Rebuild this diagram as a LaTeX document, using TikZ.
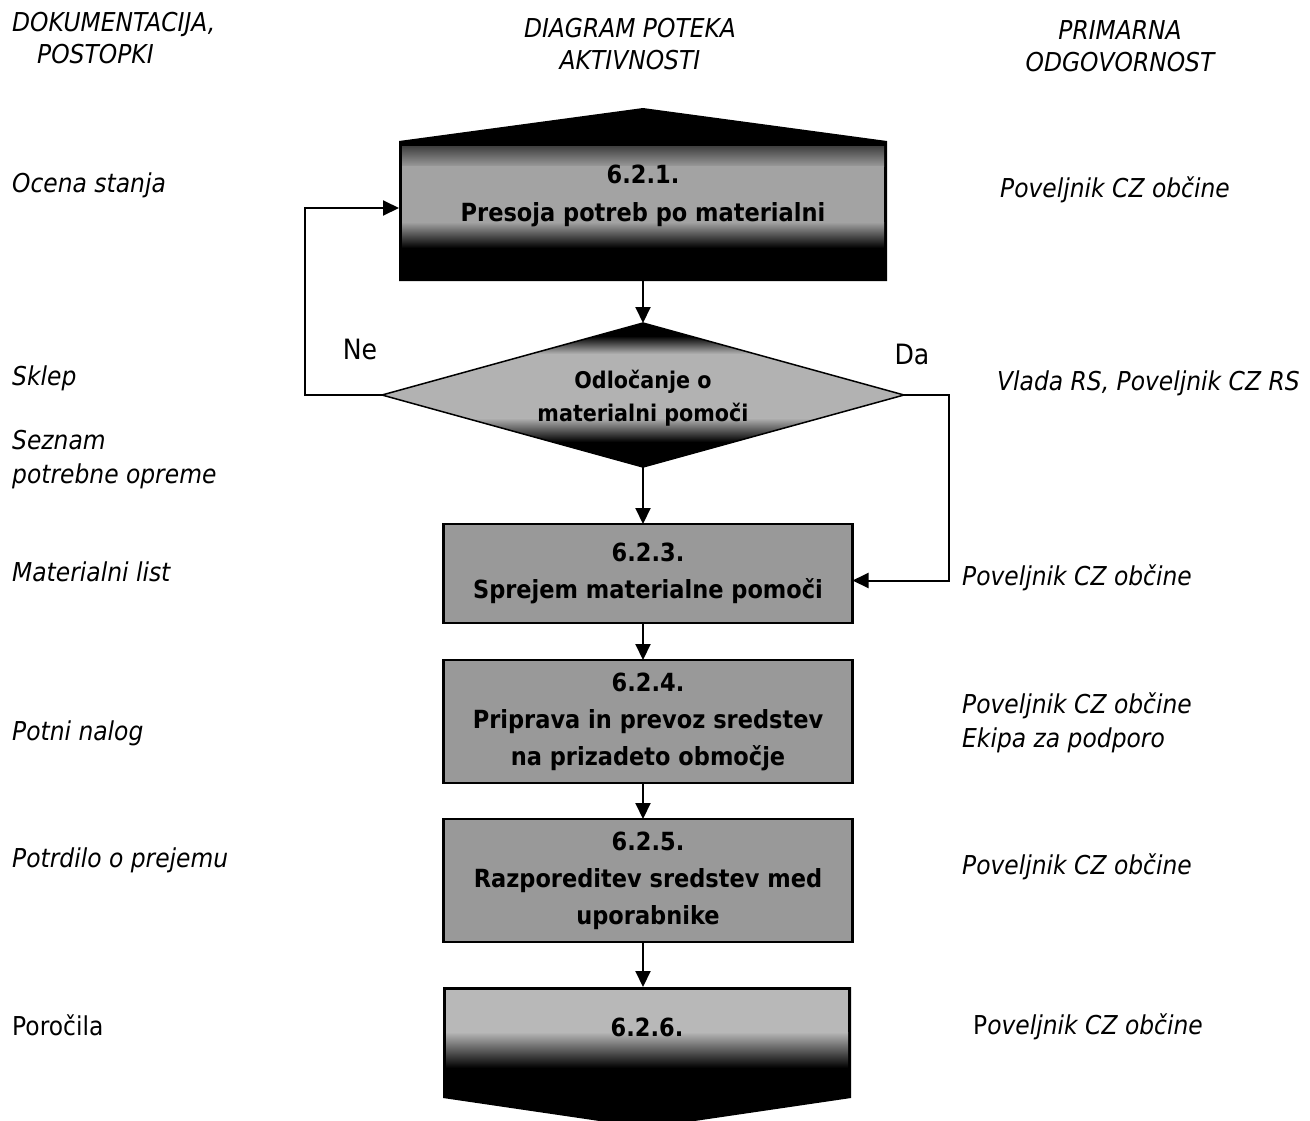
\documentclass[tikz,border=0pt]{standalone}
\usepackage{fontspec}
\setmainfont{DejaVu Sans}[FakeStretch=0.9]
\usetikzlibrary{arrows.meta,calc}
\begin{document}
\begin{tikzpicture}[x=1pt,y=-1pt,
  lbl/.style={anchor=west, inner sep=0pt, font=\fontsize{26}{34}\selectfont\itshape, align=left},
  hdr/.style={inner sep=0pt, font=\fontsize{26}{32}\selectfont\itshape, align=center},
  boxtxt/.style={inner sep=0pt, font=\fontsize{25}{37}\selectfont\bfseries, align=center},
  frame/.style={minimum width=#1, inner sep=0pt, outer sep=0pt},
  procbox/.style={draw=black, line width=2.5pt, fill=black!40, minimum width=409pt, inner sep=0pt, outer sep=0pt, boxtxt},
  yn/.style={inner sep=0pt, font=\fontsize{28}{28}\selectfont},
  conn/.style={line width=2pt},
  arr/.style={conn, -{Triangle[length=16pt,width=15pt]}},
  ]
\useasboundingbox (0,0) rectangle (1310,1120);
\fill[white] (0,0) rectangle (1310,1120);

% ---------- headers ----------
\node[hdr, anchor=north west, align=left] (h1) at (12,12) {DOKUMENTACIJA,\\\hspace*{25pt}POSTOPKI};
\node[hdr] (h2) at (630,44) {DIAGRAM POTEKA\\AKTIVNOSTI};
\node[hdr] (h3) at (1120,46) {PRIMARNA\\ODGOVORNOST};

% ---------- top shape 6.2.1 ----------
\node[frame=488pt, minimum height=140pt] (b1) at (643,211) {};
\fill[black] (b1.south west) -- (b1.north west) -- ($(b1.north)+(0,-33)$) -- (b1.north east) -- (b1.south east) -- cycle;
\shade[top color=black!75, bottom color=black!40] (402,146) rectangle (884,166);
\fill[black!36] (402,166) rectangle (884,222);
\shade[top color=black!36, bottom color=black] (402,222) rectangle (884,248);
\node[boxtxt, font=\fontsize{25}{38}\selectfont\bfseries] (t1) at (643,196) {6.2.1.\\Presoja potreb po materialni};

% ---------- decision diamond ----------
\node[frame=522pt, minimum height=144pt] (d) at (643,395) {};
\fill[black] (d.north) -- (d.east) -- (d.south) -- (d.west) -- cycle;
\begin{scope}
  \clip (d.north) -- (d.east) -- (d.south) -- (d.west) -- cycle;
  \shade[top color=black, bottom color=black!30] (380,336) rectangle (906,354);
  \fill[black!30] (380,354) rectangle (906,418);
  \shade[top color=black!30, bottom color=black] (380,418) rectangle (906,442);
\end{scope}
\draw[line width=1.5pt] (d.north) -- (d.east) -- (d.south) -- (d.west) -- cycle;
\node[boxtxt, font=\fontsize{23}{33}\selectfont\bfseries] (dt) at (643,398) {Odločanje o\\materialni pomoči};
\node[yn] (ne) at (360,349) {Ne};
\node[yn] (da) at (912,354) {Da};

% ---------- process boxes ----------
\node[procbox, minimum height=99pt] (b3) at (648,573.5) {6.2.3.\\Sprejem materialne pomoči};
\node[procbox, minimum height=123pt] (b4) at (648,721.5) {6.2.4.\\Priprava in prevoz sredstev\\na prizadeto območje};
\node[procbox, minimum height=123pt] (b5) at (648,880.5) {6.2.5.\\Razporeditev sredstev med\\uporabnike};

% ---------- bottom shape 6.2.6 ----------
\node[frame=408pt, minimum height=111pt] (b6) at (647,1042.5) {};
\fill[black] (b6.north west) -- (b6.north east) -- (b6.south east) -- ($(b6.south)+(0,30)$) -- (b6.south west) -- cycle;
\fill[black!28] (446,990) rectangle (848,1032);
\shade[top color=black!28, bottom color=black] (446,1032) rectangle (848,1068);
\node[boxtxt] (t6) at (647,1027) {6.2.6.};

% ---------- connectors ----------
\coordinate (neturn) at (305,395);
\coordinate (daturn) at (949,395);
\draw[arr] (d.north |- b1.south) -- (d.north);
\draw[arr] (d.west) -- (neturn) |- ([yshift=3pt]b1.west);
\draw[arr] (d.east) -- (daturn) |- ([yshift=-7pt]b3.east);
\draw[arr] (d.south) -- (d.south |- b3.north);
\draw[arr] (d.south |- b3.south) -- (d.south |- b4.north);
\draw[arr] (d.south |- b4.south) -- (d.south |- b5.north);
\draw[arr] (d.south |- b5.south) -- (d.south |- b6.north);

% ---------- left column ----------
\node[lbl] (l1) at (12,185) {Ocena stanja};
\node[lbl] (l2) at (12,378) {Sklep};
\node[lbl] (l3) at (12,460) {Seznam\\potrebne opreme};
\node[lbl] (l4) at (12,572) {Materialni list};
\node[lbl] (l5) at (12,733) {Potni nalog};
\node[lbl] (l6) at (12,860) {Potrdilo o prejemu};
\node[lbl, font=\fontsize{26}{34}\selectfont\upshape] (l7) at (12,1025) {Poročila};

% ---------- right column ----------
\node[lbl] (r1) at (1000,190) {Poveljnik CZ občine};
\node[lbl] (r2) at (997,383) {Vlada RS, Poveljnik CZ RS};
\node[lbl] (r3) at (962,578) {Poveljnik CZ občine};
\node[lbl] (r4) at (962,723) {Poveljnik CZ občine\\Ekipa za podporo};
\node[lbl] (r5) at (962,867) {Poveljnik CZ občine};
\node[lbl] (r6) at (973,1027) {{\upshape P}oveljnik CZ občine};
\end{tikzpicture}
\end{document}
